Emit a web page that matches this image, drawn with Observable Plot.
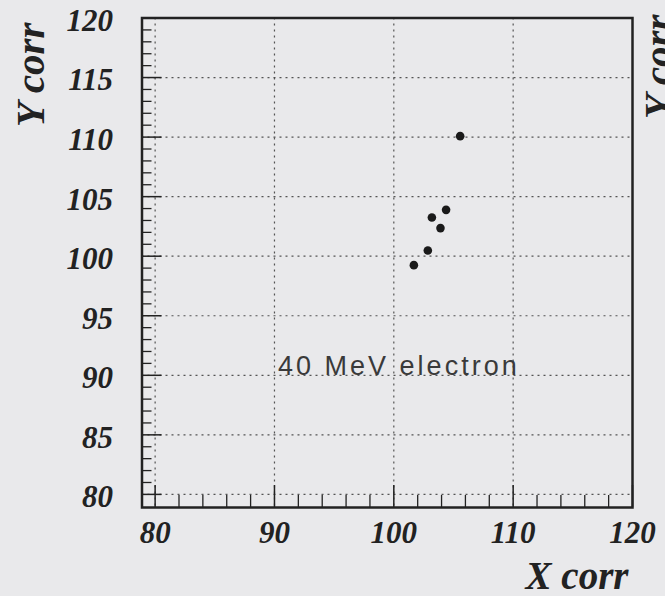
<!DOCTYPE html>
<html>
<head>
<meta charset="utf-8">
<script src="https://cdn.jsdelivr.net/npm/d3@7"></script>
<script src="https://cdn.jsdelivr.net/npm/@observablehq/plot@0.6"></script>
<style>
  html, body { margin: 0; padding: 0; background: #e9e9eb; }
  #chart { width: 665px; height: 596px; overflow: hidden; }
  .annot text { letter-spacing: 3px; }
</style>
</head>
<body>
<div id="chart"></div>
<script>
// Reconstructed hit positions for a 40 MeV electron
const xCorr = [105.56, 104.38, 103.19, 103.91, 102.85, 101.68];
const yCorr = [110.08, 103.89, 103.25, 102.36, 100.48, 99.25];

// Axis tick values
const xMajor = [80, 90, 100, 110, 120];
const yMajor = [80, 85, 90, 95, 100, 105, 110, 115, 120];
const xMinor = d3.range(82, 120, 2).filter(v => v % 10 !== 0);
const yMinor = d3.range(81, 120, 1).filter(v => v % 5 !== 0);

const annotation = "40 MeV electron";

const points = xCorr.map((x, i) => ({x, y: yCorr[i]}));

const W = 665, H = 596;
const mL = 141.5, mR = 33, mT = 17.5, mB = 89;
const fw = W - mL - mR, fh = H - mT - mB;

const serif = "'Liberation Serif', 'Times New Roman', serif";
const ink = "#222";

const chart = Plot.plot({
  width: W,
  height: H,
  marginLeft: mL,
  marginRight: mR,
  marginTop: mT,
  marginBottom: mB,
  style: {background: "transparent", color: ink, overflow: "visible"},
  x: {domain: [78.9, 120]},
  y: {domain: [78.9, 120]},
  marks: [
    // dotted grid at the major divisions
    Plot.gridX(xMajor.filter(v => v < 120), {stroke: "#444", strokeOpacity: 0.9, strokeWidth: 1.2, strokeDasharray: "2,4"}),
    Plot.gridY(yMajor.filter(v => v < 120), {stroke: "#444", strokeOpacity: 0.9, strokeWidth: 1.2, strokeDasharray: "2,4"}),
    // inward ticks along the bottom edge
    Plot.ruleX(xMinor, {x: d => d, insetTop: fh - 12, stroke: ink, strokeWidth: 1.3}),
    Plot.ruleX(xMajor, {x: d => d, insetTop: fh - 22, stroke: ink, strokeWidth: 1.5}),
    // inward ticks along the left edge
    Plot.ruleY(yMinor, {y: d => d, insetRight: fw - 10, stroke: ink, strokeWidth: 1.3}),
    Plot.ruleY(yMajor, {y: d => d, insetRight: fw - 20, stroke: ink, strokeWidth: 1.5}),
    Plot.axisX(xMajor, {
      tickSize: 0, tickPadding: 13, label: null,
      fontFamily: serif, fontSize: 31, fontStyle: "italic", fontWeight: "bold", fill: ink
    }),
    Plot.axisY(yMajor, {
      tickSize: 0, tickPadding: 29, label: null, dy: 3,
      fontFamily: serif, fontSize: 31, fontStyle: "italic", fontWeight: "bold", fill: ink
    }),
    Plot.frame({stroke: ink, strokeWidth: 2.5}),
    Plot.dot(points, {x: "x", y: "y", r: 4.3, fill: "#1a1a1a", stroke: "none"}),
    Plot.text([annotation], {
      x: 90.3, y: 90, text: d => d, textAnchor: "start", lineAnchor: "bottom",
      fontFamily: "'Liberation Sans', Arial, sans-serif", fontSize: 27, fill: "#3a3a3a",
      className: "annot"
    }),
    // axis titles
    Plot.text(["X corr"], {
      frameAnchor: "bottom-right", text: d => d, dx: -4, dy: 81,
      textAnchor: "end", lineAnchor: "bottom",
      fontFamily: serif, fontSize: 39, fontStyle: "italic", fontWeight: "bold", fill: ink
    }),
    Plot.text(["Y corr"], {
      frameAnchor: "top-left", text: d => d, dx: 43 - mL, dy: 22 - mT, rotate: -90,
      textAnchor: "end", lineAnchor: "bottom",
      fontFamily: serif, fontSize: 41, fontStyle: "italic", fontWeight: "bold", fill: ink
    }),
    // title of the neighbouring panel, cut by the right edge
    Plot.text(["Y corr"], {
      frameAnchor: "top-right", text: d => d, dx: 671 - (W - mR), dy: 14 - mT, rotate: -90,
      textAnchor: "end", lineAnchor: "bottom",
      fontFamily: serif, fontSize: 41, fontStyle: "italic", fontWeight: "bold", fill: ink
    })
  ]
});

document.getElementById("chart").append(chart);
</script>
</body>
</html>
